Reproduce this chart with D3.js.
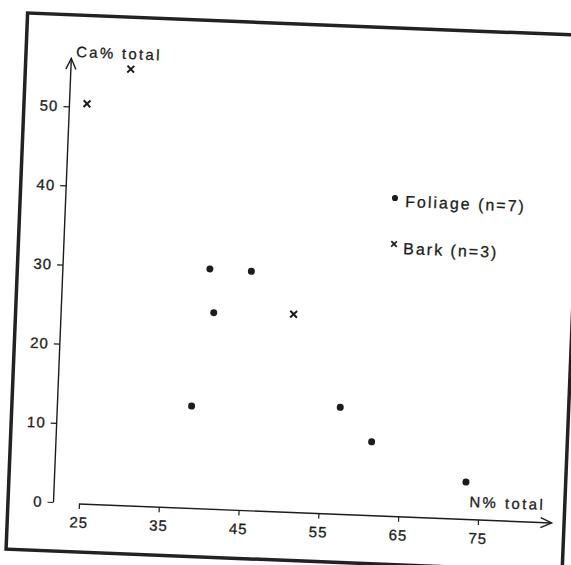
<!DOCTYPE html>
<html>
<head>
<meta charset="utf-8">
<script src="https://cdn.jsdelivr.net/npm/d3@7"></script>
<style>
  html, body { margin: 0; padding: 0; background: #ffffff; }
  svg { display: block; }
  text { font-family: "Liberation Sans", Arial, sans-serif; fill: #1c1c1c; stroke: #1c1c1c; stroke-width: 0.3px; }
</style>
</head>
<body>
<svg id="chart" width="571" height="565"></svg>
<script>
// ---- data ----
const foliageN  = [38.6, 40.2, 40.9, 45.4, 57.2, 61.3, 73.3];
const foliageCa = [12.8, 30.2, 24.7, 30.1, 13.4, 9.2, 4.6];
const barkN     = [24.0, 29.3, 50.9];
const barkCa    = [50.4, 55.0, 24.9];
const xTicks = [25, 35, 45, 55, 65, 75];
const yTicks = [0, 10, 20, 30, 40, 50];
const xTitle = "N% total";
const yTitle = "Ca% total";
const legendFoliage = "Foliage (n=7)";
const legendBark = "Bark (n=3)";

// ---- layout ----
const ink = "#1c1c1c";
const svg = d3.select("#chart");
const ox = 54, oy = 502;           // data origin (pivot of the scan's tilt)
const g = svg.append("g").attr("transform", `rotate(2.3, ${ox}, ${oy})`);

// frame
g.append("rect")
  .attr("x", 8).attr("y", 14.5).attr("width", 556.5).attr("height", 536.5)
  .attr("fill", "none").attr("stroke", "#222").attr("stroke-width", 3.5);

const x = d3.scaleLinear().domain([25, 75]).range([ox + 25, ox + 424.4]);
const y = d3.scaleLinear().domain([0, 50]).range([oy, oy - 396]);

// x axis
const xAxisY = oy + 1;
const xg = g.append("g").attr("transform", `translate(0,${xAxisY})`)
  .call(d3.axisBottom(x).tickValues(xTicks).tickSize(5).tickPadding(8).tickFormat(d3.format("d")));
xg.select(".domain").remove();
xg.selectAll(".tick line").attr("stroke", ink).attr("stroke-width", 1.2);
xg.selectAll(".tick text").attr("font-size", 15).attr("letter-spacing", 1).style("fill", ink);
const xEnd = ox + 498;
g.append("line").attr("x1", x(25)).attr("y1", xAxisY).attr("x2", xEnd).attr("y2", xAxisY)
  .attr("stroke", ink).attr("stroke-width", 1.4);
g.append("path").attr("d", `M${xEnd - 11},${xAxisY - 5}L${xEnd},${xAxisY}L${xEnd - 11},${xAxisY + 5}`)
  .attr("fill", "none").attr("stroke", ink).attr("stroke-width", 1.4);

// y axis
const yAxisX = ox - 0.5;
const yg = g.append("g").attr("transform", `translate(${yAxisX},0)`)
  .call(d3.axisLeft(y).tickValues(yTicks).tickSize(6).tickPadding(5).tickFormat(d3.format("d")));
yg.select(".domain").remove();
yg.selectAll(".tick line").attr("stroke", ink).attr("stroke-width", 1.2);
yg.selectAll(".tick text").attr("font-size", 15).attr("letter-spacing", 1).style("fill", ink);
const yTop = oy - 444;
g.append("line").attr("x1", yAxisX).attr("y1", y(0)).attr("x2", yAxisX).attr("y2", yTop)
  .attr("stroke", ink).attr("stroke-width", 1.4);
g.append("path").attr("d", `M${yAxisX - 5},${yTop + 11}L${yAxisX},${yTop}L${yAxisX + 5},${yTop + 11}`)
  .attr("fill", "none").attr("stroke", ink).attr("stroke-width", 1.4);

// axis titles
g.append("text").attr("x", ox + 4).attr("y", oy - 445.5).attr("font-size", 15)
  .attr("letter-spacing", 2.3).text(yTitle);
g.append("text").attr("x", ox + 415).attr("y", oy - 11.7).attr("font-size", 15)
  .attr("letter-spacing", 2.4).text(xTitle);

// markers
const foliage = foliageN.map((n, i) => ({ n, ca: foliageCa[i] }));
const bark = barkN.map((n, i) => ({ n, ca: barkCa[i] }));

g.selectAll("circle.fol").data(foliage).enter().append("circle")
  .attr("class", "fol")
  .attr("cx", d => x(d.n)).attr("cy", d => y(d.ca)).attr("r", 3.5).attr("fill", ink);

const cross = s => `M${-s},${-s}L${s},${s}M${-s},${s}L${s},${-s}`;
g.selectAll("path.bark").data(bark).enter().append("path")
  .attr("class", "bark")
  .attr("transform", d => `translate(${x(d.n)},${y(d.ca)})`)
  .attr("d", cross(3.4)).attr("fill", "none").attr("stroke", ink).attr("stroke-width", 2);

// legend
g.append("circle").attr("cx", 382.5).attr("cy", 184.6).attr("r", 3).attr("fill", ink);
g.append("text").attr("x", 392.9).attr("y", 193.1).attr("font-size", 16)
  .attr("letter-spacing", 2).text(legendFoliage);
g.append("path").attr("transform", "translate(383.4,230.6)").attr("d", cross(2.8))
  .attr("fill", "none").attr("stroke", ink).attr("stroke-width", 1.7);
g.append("text").attr("x", 392.8).attr("y", 240.2).attr("font-size", 16)
  .attr("letter-spacing", 2).text(legendBark);
</script>
</body>
</html>
